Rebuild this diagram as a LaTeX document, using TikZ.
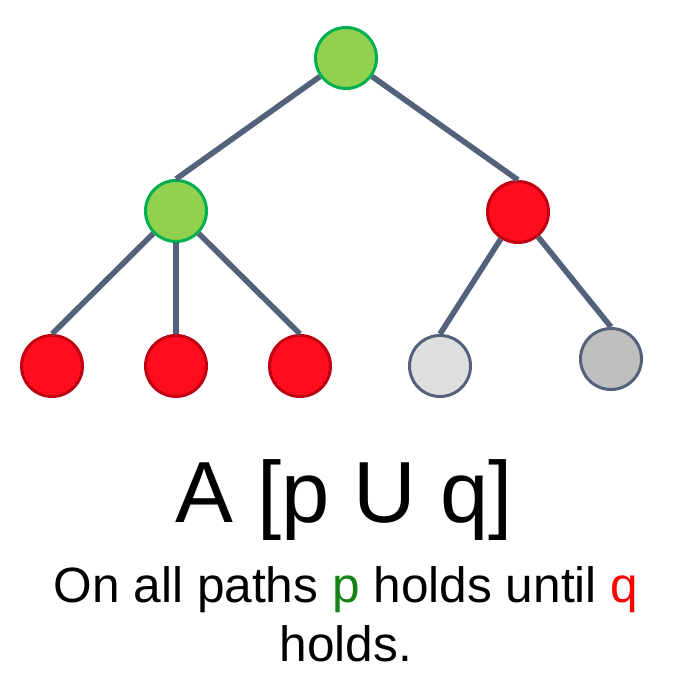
\documentclass[tikz,border=0pt]{standalone}
\usepackage{fontspec}
\setmainfont{Liberation Sans}
\usetikzlibrary{positioning}

\definecolor{edgegray}{RGB}{84,97,122}
\definecolor{pgreen}{RGB}{146,208,80}
\definecolor{pgreenline}{RGB}{0,176,80}
\definecolor{qred}{RGB}{255,13,31}
\definecolor{qredline}{RGB}{192,0,16}
\definecolor{lightleaf}{RGB}{222,222,222}
\definecolor{darkleaf}{RGB}{191,191,191}
\definecolor{textgreen}{RGB}{20,130,20}

\begin{document}
\begin{tikzpicture}[
    x=0.5pt,y=0.5pt,
    state/.style={circle,minimum size=30.5pt,inner sep=0pt,line width=1.5pt},
    pstate/.style={state,fill=pgreen,draw=pgreenline},
    qstate/.style={state,fill=qred,draw=qredline},
    lightstate/.style={state,fill=lightleaf,draw=edgegray},
    darkstate/.style={state,fill=darkleaf,draw=edgegray},
    branch/.style={draw=edgegray,line width=2.8pt},
]
    \useasboundingbox (0,0) rectangle (675,700);
    % tree
    \node[pstate] (root) at (346,642) {};
    \node[pstate] (left) at (176,489) {};
    \node[qstate] (right) at (518,488) {};
    \node[qstate] (leafa) at (52,334) {};
    \node[qstate] (leafb) at (176,334) {};
    \node[qstate] (leafc) at (300,334) {};
    \node[lightstate] (leafd) at (440,334) {};
    \node[darkstate] (leafe) at (611,341) {};
    \draw[branch] (root) -- (left.north);
    \draw[branch] (root) -- (right.north);
    \draw[branch] (left) -- (leafa.north);
    \draw[branch] (left) -- (leafb.north);
    \draw[branch] (left) -- (leafc.north);
    \draw[branch] (right) -- (leafd.north);
    \draw[branch] (right) -- (leafe.north);
    % formula and caption
    \node[anchor=base,inner sep=0pt,font=\fontsize{43.4pt}{50pt}\selectfont]
        (formula) at (344,177) {A [p U q]};
    \node[anchor=base,inner sep=0pt,font=\fontsize{24.8pt}{29.5pt}\selectfont]
        (captiona) at (346,97) {On all paths \textcolor{textgreen}{p} holds until \textcolor{red}{q}};
    \node[below=29.5pt of captiona.base,anchor=base,inner sep=0pt,
        font=\fontsize{24.8pt}{29.5pt}\selectfont] (captionb) {holds.};
\end{tikzpicture}
\end{document}
